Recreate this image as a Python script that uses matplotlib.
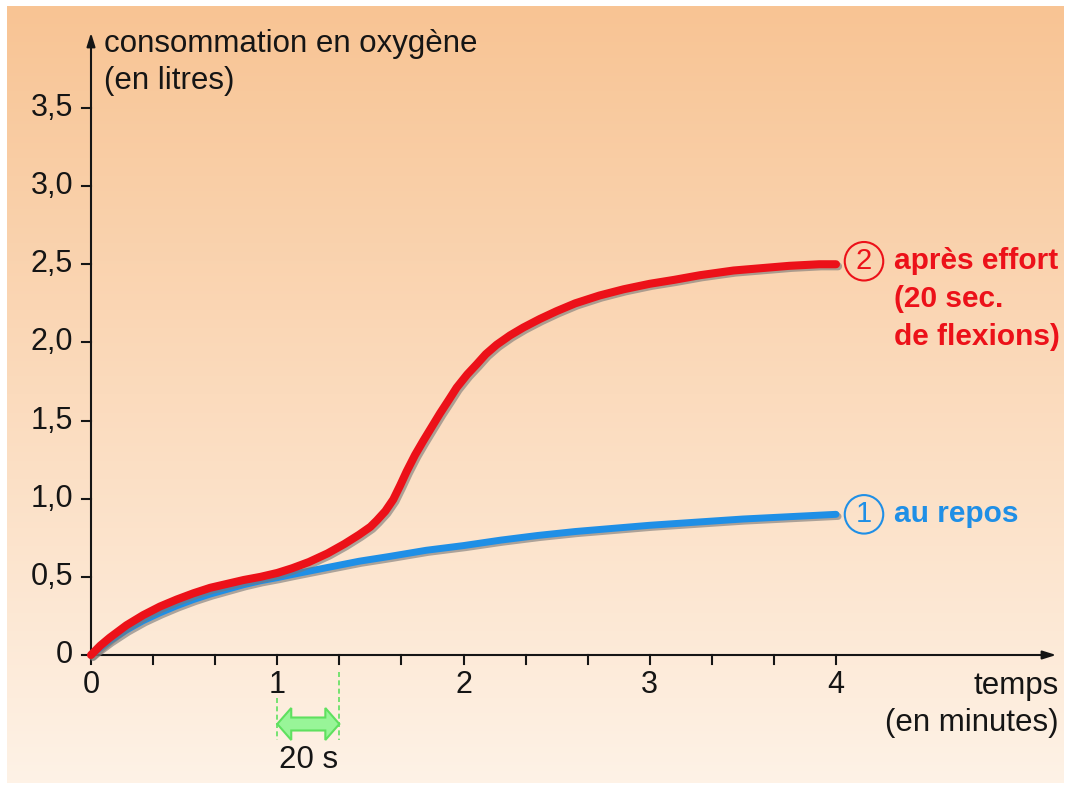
import matplotlib.pyplot as plt
import matplotlib.patheffects as pe
import matplotlib.patches as mpatches
import numpy as np

plt.rcParams['font.family'] = ['Liberation Sans', 'DejaVu Sans']

# values (time in minutes, O2 in litres)
t_repos = [0, 0.05, 0.1, 0.19, 0.28, 0.37, 0.46, 0.55, 0.64, 0.73, 0.82, 0.91, 1.0, 1.08,
           1.27, 1.44, 1.6, 1.8, 2.0, 2.2, 2.4, 2.6, 2.8, 3.0, 3.25, 3.5, 3.75, 4.0]
o2_repos = [0, 0.045, 0.09, 0.16, 0.22, 0.27, 0.315, 0.355, 0.39, 0.42, 0.45, 0.475, 0.495, 0.515,
            0.56, 0.60, 0.63, 0.67, 0.70, 0.735, 0.765, 0.79, 0.81, 0.83, 0.85, 0.87, 0.885, 0.90]

t_effort = [0, 0.05, 0.1, 0.19, 0.28, 0.37, 0.46, 0.55, 0.64, 0.73, 0.82, 0.91, 1.0, 1.08,
            1.17, 1.27, 1.36, 1.44, 1.5, 1.534, 1.58, 1.623, 1.66, 1.695, 1.74, 1.784, 1.83,
            1.874, 1.92, 1.963, 2.02, 2.071, 2.12, 2.178, 2.25, 2.321, 2.41, 2.5, 2.6, 2.73,
            2.86, 3.0, 3.13, 3.27, 3.45, 3.6, 3.75, 3.91, 4.0]
o2_effort = [0, 0.06, 0.11, 0.19, 0.255, 0.31, 0.355, 0.395, 0.43, 0.455, 0.48, 0.50, 0.525, 0.555,
             0.595, 0.65, 0.71, 0.77, 0.82, 0.86, 0.92, 0.995, 1.085, 1.175, 1.28, 1.37, 1.46,
             1.546, 1.63, 1.71, 1.795, 1.86, 1.925, 1.985, 2.045, 2.095, 2.15, 2.2, 2.25, 2.30,
             2.34, 2.375, 2.40, 2.43, 2.46, 2.475, 2.49, 2.50, 2.50]

x_ticks = [0, 1, 2, 3, 4]
x_minor = [i / 3 for i in range(13)]
y_ticks = [0, 0.5, 1.0, 1.5, 2.0, 2.5, 3.0, 3.5]
y_labels = ['0', '0,5', '1,0', '1,5', '2,0', '2,5', '3,0', '3,5']

RED = '#ec1119'
BLUE = '#1f8fe6'
GREEN_EDGE = '#5fe05f'
GREEN_FILL = '#98f598'
INK = '#151515'

fig = plt.figure(figsize=(10.71, 7.9), dpi=100)
ax = fig.add_axes([0, 0, 1, 1])

# pixel -> data mapping: x=0 at px 91, 186.25 px/min; y=0 at px 655, 156.3 px/l
px_x, px_y = 186.25, 156.3
x0, y0 = 91, 655


def X(px):
    return (px - x0) / px_x


def Y(py):
    return (y0 - py) / px_y


ax.set_xlim(X(0), X(1071))
ax.set_ylim(Y(790), Y(0))
ax.axis('off')

# background gradient (white border around)
grad = np.linspace(0, 1, 256)[:, None]
c_top = np.array([248, 196, 148]) / 255
c_bot = np.array([254, 242, 230]) / 255
img = c_top[None, None, :] * (1 - grad[:, :, None]) + c_bot[None, None, :] * grad[:, :, None]
ax.imshow(img, extent=[X(7), X(1064), Y(783), Y(7)], aspect='auto', zorder=0)

# axes with arrows
arr = dict(arrowstyle='-|>,head_length=0.8,head_width=0.25', color=INK, lw=1.5)
ax.annotate('', xy=(0, Y(30)), xytext=(0, 0), arrowprops=arr, zorder=3)
ax.annotate('', xy=(X(1059), 0), xytext=(0, 0), arrowprops=arr, zorder=3)

for yt, lab in zip(y_ticks, y_labels):
    ax.plot([X(82), 0], [yt, yt], color=INK, lw=1.5, zorder=3)
    ax.text(X(73), yt, lab, ha='right', va='center', fontsize=22, color=INK)
for xm in x_minor:
    ax.plot([xm, xm], [0, Y(664)], color=INK, lw=1.5, zorder=3)
for xt in x_ticks:
    ax.text(xt, Y(685), str(xt), ha='center', va='center', fontsize=22, color=INK)

ax.text(X(104), Y(44), 'consommation en oxygène', ha='left', va='center', fontsize=22.5, color=INK)
ax.text(X(104), Y(81), '(en litres)', ha='left', va='center', fontsize=22.5, color=INK)
ax.text(X(1059), Y(686), 'temps', ha='right', va='center', fontsize=22.5, color=INK)
ax.text(X(1059), Y(723), '(en minutes)', ha='right', va='center', fontsize=22.5, color=INK)

# curves with drop shadow
shadow = [pe.SimpleLineShadow(offset=(1.5, -1.5), shadow_color='#777777', alpha=0.6), pe.Normal()]
ax.plot(t_repos, o2_repos, color=BLUE, lw=5, solid_capstyle='round', solid_joinstyle='round',
        path_effects=shadow, zorder=4)
ax.plot(t_effort, o2_effort, color=RED, lw=5.8, solid_capstyle='round', solid_joinstyle='round',
        path_effects=shadow, zorder=5)

# labels of the curves
lx = X(864)
ax.text(lx, o2_repos[-1], '1', ha='center', va='center', fontsize=21, color=BLUE,
        bbox=dict(boxstyle='circle,pad=0.18', fc='none', ec=BLUE, lw=1.5))
ax.text(X(894), o2_repos[-1], 'au repos', ha='left', va='center', fontsize=21.5,
        fontweight='bold', color=BLUE)
ax.text(lx, o2_effort[-1] + 3 / px_y, '2', ha='center', va='center', fontsize=21, color=RED,
        bbox=dict(boxstyle='circle,pad=0.18', fc='none', ec=RED, lw=1.5))
for i, line in enumerate(['après effort', '(20 sec.', 'de flexions)']):
    ax.text(X(894), Y(261 + 38 * i), line, ha='left', va='center',
            fontsize=21.5, fontweight='bold', color=RED)

# 20 s marker
s0, s1 = 1, 4 / 3
ax.plot([s0, s0], [Y(698), Y(740)], color=GREEN_EDGE, lw=1.2, ls=(0, (3, 2)), zorder=3)
ax.plot([s1, s1], [Y(672), Y(740)], color=GREEN_EDGE, lw=1.2, ls=(0, (3, 2)), zorder=3)
ya = Y(724)
hw, bw, hl = 16 / px_y, 6.5 / px_y, 14 / px_x
arrow = mpatches.Polygon([[s0, ya], [s0 + hl, ya + hw], [s0 + hl, ya + bw], [s1 - hl, ya + bw],
                          [s1 - hl, ya + hw], [s1, ya], [s1 - hl, ya - hw], [s1 - hl, ya - bw],
                          [s0 + hl, ya - bw], [s0 + hl, ya - hw]], closed=True,
                         fc=GREEN_FILL, ec=GREEN_EDGE, lw=1.5, zorder=4)
ax.add_patch(arrow)
ax.text((s0 + s1) / 2, Y(760), '20 s', ha='center', va='center', fontsize=22.5, color=INK)

fig.savefig('out.png', dpi=100)
